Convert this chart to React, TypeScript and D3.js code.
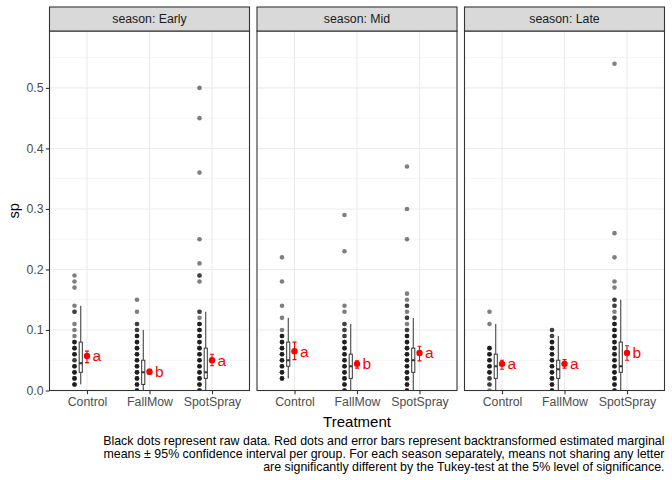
import { useEffect, useRef } from "react";
import * as d3 from "d3";

const seasons = ["Early", "Mid", "Late"];
const treatments = ["Control", "FallMow", "SpotSpray"];
const yTicks = [0, 0.1, 0.2, 0.3, 0.4, 0.5];
const yMinor = [0.05, 0.15, 0.25, 0.35, 0.45, 0.55];

// raw values, as [value, number of points stacked on that value]
const earlyControl: [number, number][] = [
  [0.19, 1], [0.18, 1], [0.17, 1], [0.14, 1], [0.13, 2], [0.11, 1], [0.1, 1], [0.09, 1],
  [0.08, 3], [0.07, 3], [0.06, 3], [0.05, 2], [0.04, 3], [0.03, 3], [0.02, 3], [0.01, 3],
];
const earlyFallMow: [number, number][] = [
  [0.15, 1], [0.13, 1], [0.11, 2], [0.1, 2], [0.09, 3], [0.08, 3], [0.07, 3], [0.06, 3],
  [0.05, 3], [0.04, 3], [0.03, 3], [0.02, 3], [0.01, 3], [0, 3],
];
const earlySpotSpray: [number, number][] = [
  [0.5, 1], [0.45, 1], [0.36, 1], [0.25, 1], [0.21, 1], [0.19, 2], [0.18, 1], [0.13, 2],
  [0.12, 1], [0.11, 3], [0.1, 3], [0.09, 3], [0.08, 3], [0.07, 3], [0.06, 3], [0.05, 3],
  [0.04, 3], [0.03, 3], [0.02, 3], [0.01, 3], [0, 3],
];
const midControl: [number, number][] = [
  [0.22, 1], [0.18, 1], [0.14, 1], [0.12, 1], [0.1, 1], [0.09, 3], [0.08, 3], [0.07, 3],
  [0.06, 3], [0.05, 3], [0.04, 3], [0.03, 3], [0.02, 3],
];
const midFallMow: [number, number][] = [
  [0.29, 1], [0.23, 1], [0.14, 1], [0.13, 1], [0.11, 2], [0.1, 2], [0.09, 2], [0.08, 3],
  [0.07, 3], [0.06, 3], [0.05, 3], [0.04, 3], [0.03, 3], [0.02, 3], [0.01, 3], [0, 3],
];
const midSpotSpray: [number, number][] = [
  [0.37, 1], [0.3, 1], [0.25, 1], [0.16, 1], [0.15, 1], [0.14, 2], [0.13, 1], [0.12, 2],
  [0.11, 1], [0.1, 2], [0.09, 3], [0.08, 3], [0.07, 3], [0.06, 3], [0.05, 3], [0.04, 3],
  [0.03, 3], [0.02, 3], [0.01, 3], [0, 3],
];
const lateControl: [number, number][] = [
  [0.13, 1], [0.11, 1], [0.07, 3], [0.06, 3], [0.05, 3], [0.04, 3], [0.03, 3], [0.02, 2],
  [0.01, 2], [0, 1],
];
const lateFallMow: [number, number][] = [
  [0.1, 2], [0.09, 2], [0.08, 3], [0.07, 3], [0.06, 3], [0.05, 3], [0.04, 3], [0.03, 3],
  [0.02, 3], [0.01, 3], [0, 3],
];
const lateSpotSpray: [number, number][] = [
  [0.54, 1], [0.26, 1], [0.22, 1], [0.18, 1], [0.17, 1], [0.15, 2], [0.14, 2], [0.13, 1],
  [0.12, 2], [0.11, 3], [0.1, 3], [0.09, 3], [0.08, 3], [0.07, 3], [0.06, 3], [0.05, 3],
  [0.04, 3], [0.03, 3], [0.02, 3], [0.01, 3], [0, 3],
];

// boxplot stats per treatment: [lower whisker, q1, median, q3, upper whisker]
const boxEarly = [
  [0.01, 0.03, 0.045, 0.08, 0.14],
  [0, 0.01, 0.03, 0.05, 0.1],
  [0, 0.02, 0.03, 0.07, 0.13],
];
const boxMid = [
  [0.02, 0.04, 0.05, 0.08, 0.12],
  [0, 0.02, 0.04, 0.06, 0.11],
  [0, 0.03, 0.05, 0.07, 0.12],
];
const boxLate = [
  [0, 0.02, 0.04, 0.06, 0.11],
  [0, 0.02, 0.035, 0.05, 0.09],
  [0, 0.03, 0.04, 0.08, 0.15],
];

// backtransformed emmeans: [mean, lower CL, upper CL]
const emmEarly = [
  [0.057, 0.046, 0.065],
  [0.031, 0.027, 0.035],
  [0.05, 0.041, 0.06],
];
const emmMid = [
  [0.065, 0.051, 0.08],
  [0.044, 0.037, 0.049],
  [0.062, 0.049, 0.073],
];
const emmLate = [
  [0.044, 0.035, 0.05],
  [0.044, 0.037, 0.051],
  [0.062, 0.05, 0.074],
];

const lettersEarly = ["a", "b", "a"];
const lettersMid = ["a", "b", "a"];
const lettersLate = ["a", "a", "b"];

const captionLines = [
  "Black dots represent raw data. Red dots and error bars represent backtransformed estimated marginal",
  "means \u00b1 95% confidence interval per group. For each season separately, means not sharing any letter",
  "are significantly different by the Tukey-test at the 5% level of significance.",
];

const rawBySeason = [
  [earlyControl, earlyFallMow, earlySpotSpray],
  [midControl, midFallMow, midSpotSpray],
  [lateControl, lateFallMow, lateSpotSpray],
];
const boxBySeason = [boxEarly, boxMid, boxLate];
const emmBySeason = [emmEarly, emmMid, emmLate];
const lettersBySeason = [lettersEarly, lettersMid, lettersLate];

const FONT = "'Liberation Sans', Arial, sans-serif";

const App = () => {
  const svgRef = useRef<SVGSVGElement | null>(null);

  useEffect(() => {
    const svg = d3.select(svgRef.current);
    svg.selectAll("*").remove();

    const width = 672;
    const height = 480;
    svg.attr("viewBox", `0 0 ${width} ${height}`);

    const stripTop = 7;
    const panelTop = 31;
    const panelBottom = 390.5;

    const facet = d3
      .scaleBand<string>()
      .domain(seasons)
      .range([49.5, 664.5])
      .paddingInner(7.5 / 207.5);
    const pw = facet.bandwidth();

    const x = d3.scalePoint<string>().domain(treatments).range([0, pw]).padding(0.6);
    const step = x.step();
    const y = d3.scaleLinear().domain([0, 0.594]).range([panelBottom, panelTop]);

    seasons.forEach((season, si) => {
      const g = svg.append("g").attr("transform", `translate(${facet(season)},0)`);

      g.append("rect")
        .attr("x", 0)
        .attr("y", panelTop)
        .attr("width", pw)
        .attr("height", panelBottom - panelTop)
        .attr("fill", "#ffffff");

      g.selectAll(".minor")
        .data(yMinor)
        .join("line")
        .attr("x1", 0)
        .attr("x2", pw)
        .attr("y1", (d) => y(d))
        .attr("y2", (d) => y(d))
        .attr("stroke", "#ebebeb")
        .attr("stroke-width", 0.55);

      g.selectAll(".major")
        .data(yTicks)
        .join("line")
        .attr("x1", 0)
        .attr("x2", pw)
        .attr("y1", (d) => y(d))
        .attr("y2", (d) => y(d))
        .attr("stroke", "#ebebeb")
        .attr("stroke-width", 1.05);

      g.selectAll(".vmajor")
        .data(treatments)
        .join("line")
        .attr("x1", (d) => x(d)!)
        .attr("x2", (d) => x(d)!)
        .attr("y1", panelTop)
        .attr("y2", panelBottom)
        .attr("stroke", "#ebebeb")
        .attr("stroke-width", 1.05);

      const clipId = `clip-${season}`;
      g.append("clipPath")
        .attr("id", clipId)
        .append("rect")
        .attr("x", 0)
        .attr("y", panelTop)
        .attr("width", pw)
        .attr("height", panelBottom - panelTop);

      const marks = g.append("g").attr("clip-path", `url(#${clipId})`);

      treatments.forEach((t, ti) => {
        const cx = x(t)!;
        const dotX = cx - 0.2 * step;
        const boxX = cx - 0.1 * step;
        const boxW = 0.05 * step;

        const pts: number[] = [];
        rawBySeason[si][ti].forEach(([v, n]) => {
          for (let k = 0; k < n; k++) pts.push(v);
        });
        marks
          .append("g")
          .selectAll("circle")
          .data(pts)
          .join("circle")
          .attr("cx", dotX)
          .attr("cy", (d) => y(d))
          .attr("r", 2.3)
          .attr("fill", "#000000")
          .attr("fill-opacity", 0.5);

        const [lo, q1, med, q3, hi] = boxBySeason[si][ti];
        marks
          .append("line")
          .attr("x1", boxX)
          .attr("x2", boxX)
          .attr("y1", y(hi))
          .attr("y2", y(q3))
          .attr("stroke", "#333333")
          .attr("stroke-width", 1);
        marks
          .append("line")
          .attr("x1", boxX)
          .attr("x2", boxX)
          .attr("y1", y(q1))
          .attr("y2", y(lo))
          .attr("stroke", "#333333")
          .attr("stroke-width", 1);
        marks
          .append("rect")
          .attr("x", boxX - boxW / 2)
          .attr("width", boxW)
          .attr("y", y(q3))
          .attr("height", y(q1) - y(q3))
          .attr("fill", "#ffffff")
          .attr("stroke", "#333333")
          .attr("stroke-width", 1);
        marks
          .append("line")
          .attr("x1", boxX - boxW / 2)
          .attr("x2", boxX + boxW / 2)
          .attr("y1", y(med))
          .attr("y2", y(med))
          .attr("stroke", "#333333")
          .attr("stroke-width", 2);

        const [m, lcl, ucl] = emmBySeason[si][ti];
        const cap = 2;
        marks
          .append("path")
          .attr(
            "d",
            `M${cx - cap},${y(ucl)}H${cx + cap}M${cx},${y(ucl)}V${y(lcl)}M${cx - cap},${y(lcl)}H${cx + cap}`
          )
          .attr("fill", "none")
          .attr("stroke", "#ff0000")
          .attr("stroke-width", 1.1);
        marks
          .append("circle")
          .attr("cx", cx)
          .attr("cy", y(m))
          .attr("r", 3.2)
          .attr("fill", "#ff0000");

        g.append("text")
          .attr("x", cx + 5.5)
          .attr("y", y(m))
          .attr("dy", "0.35em")
          .attr("fill", "#ff0000")
          .attr("font-family", FONT)
          .attr("font-size", 15.5)
          .text(lettersBySeason[si][ti]);
      });

      g.append("rect")
        .attr("x", 0)
        .attr("y", panelTop)
        .attr("width", pw)
        .attr("height", panelBottom - panelTop)
        .attr("fill", "none")
        .attr("stroke", "#333333")
        .attr("stroke-width", 1.1);

      g.append("rect")
        .attr("x", 0)
        .attr("y", stripTop)
        .attr("width", pw)
        .attr("height", panelTop - stripTop)
        .attr("fill", "#d9d9d9")
        .attr("stroke", "#333333")
        .attr("stroke-width", 1.1);

      g.append("text")
        .attr("x", pw / 2)
        .attr("y", (stripTop + panelTop) / 2)
        .attr("dy", "0.35em")
        .attr("text-anchor", "middle")
        .attr("fill", "#1a1a1a")
        .attr("font-family", FONT)
        .attr("font-size", 12.3)
        .text(`season: ${season}`);

      const xAxis = d3.axisBottom(x).tickSize(3.7).tickPadding(3);
      const xg = g
        .append("g")
        .attr("transform", `translate(0,${panelBottom})`)
        .call(xAxis);
      xg.select(".domain").remove();
      xg.selectAll(".tick line").attr("stroke", "#333333").attr("stroke-width", 1.1);
      xg.selectAll(".tick text")
        .attr("fill", "#4d4d4d")
        .attr("font-family", FONT)
        .attr("font-size", 12.3);
    });

    const yAxis = d3
      .axisLeft(y)
      .tickValues(yTicks)
      .tickFormat(d3.format(".1f"))
      .tickSize(3.7)
      .tickPadding(2.2);
    const yg = svg
      .append("g")
      .attr("transform", `translate(${facet(seasons[0])},0)`)
      .call(yAxis);
    yg.select(".domain").remove();
    yg.selectAll(".tick line").attr("stroke", "#333333").attr("stroke-width", 1.1);
    yg.selectAll(".tick text")
      .attr("fill", "#4d4d4d")
      .attr("font-family", FONT)
      .attr("font-size", 12.3);

    svg
      .append("text")
      .attr("transform", `translate(14,${(panelTop + panelBottom) / 2}) rotate(-90)`)
      .attr("dy", "0.35em")
      .attr("text-anchor", "middle")
      .attr("font-family", FONT)
      .attr("font-size", 14.7)
      .attr("fill", "#000000")
      .text("sp");

    svg
      .append("text")
      .attr("x", (49.5 + 664.5) / 2)
      .attr("y", 427)
      .attr("text-anchor", "middle")
      .attr("font-family", FONT)
      .attr("font-size", 15)
      .attr("fill", "#000000")
      .text("Treatment");

    svg
      .append("g")
      .selectAll("text")
      .data(captionLines)
      .join("text")
      .attr("x", 664.5)
      .attr("y", (_, i) => 445 + i * 13)
      .attr("text-anchor", "end")
      .attr("font-family", FONT)
      .attr("font-size", 12.4)
      .attr("fill", "#000000")
      .text((d) => d);
  }, []);

  return (
    <svg
      ref={svgRef}
      role="img"
      aria-label="Faceted dot and boxplot chart of sp by treatment and season"
      width={672}
      height={480}
      style={{ position: "absolute", left: 0, top: 0, background: "#ffffff" }}
    />
  );
};

export default App;
